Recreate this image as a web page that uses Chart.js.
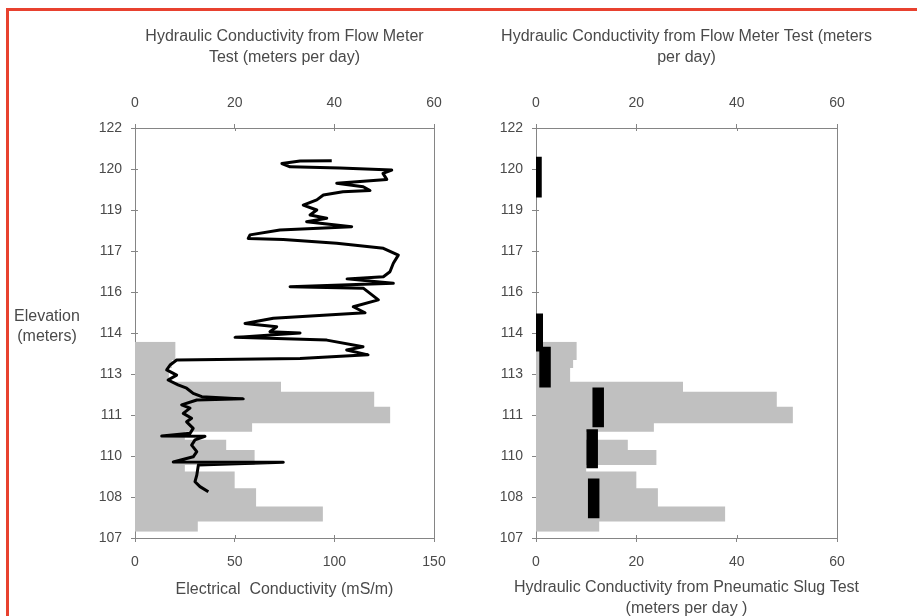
<!DOCTYPE html>
<html>
<head>
<meta charset="utf-8">
<title>Borehole conductivity profiles</title>
<script src="https://cdn.jsdelivr.net/npm/chart.js@4.4.1/dist/chart.umd.min.js"></script>
<style>
  html, body { margin: 0; padding: 0; background: #fff; overflow: hidden; }
  #page { position: relative; width: 917px; height: 616px; }
  #frame { position: absolute; left: 6px; top: 8px; width: 930px; height: 630px;
           border-top: 3px solid #e8412f; border-left: 3px solid #e8412f; }
  #left { position: absolute; left: 0; top: 0; }
  #right { position: absolute; left: 460px; top: 0; }
</style>
</head>
<body>
<div id="page">
  <div id="frame"></div>
  <canvas id="left" width="460" height="616"></canvas>
  <canvas id="right" width="457" height="616"></canvas>
</div>
<script>
// elevation ticks are every 1.5 m but the original shows them as whole metres
const elevationTicks = ['107', '108', '110', '111', '113', '114', '116', '117', '119', '120', '122'];

// flow meter test: hydraulic conductivity (m/day) for each depth interval
const flowEdges = [114.18, 113.51, 113.22, 112.72, 112.35, 111.80, 111.20, 110.89,
                   110.59, 110.22, 109.67, 109.43, 108.82, 108.15, 107.60, 107.23];
const flowK = [8.1, 7.4, 6.8, 29.3, 48.0, 51.2, 23.5, 10.0, 18.3, 24.0, 10.0, 20.0, 24.3, 37.7, 12.6];

// electrical conductivity log (mS/m)
const ecElevation = [120.80, 120.79, 120.70, 120.58, 120.54, 120.46, 120.34, 120.12, 119.98, 119.85,
                     119.71, 119.67, 119.55, 119.37, 119.18, 119.00, 118.82, 118.70, 118.57, 118.39,
                     118.27, 118.09, 117.96, 117.92, 117.78, 117.60, 117.35, 117.05, 116.74, 116.56,
                     116.48, 116.32, 116.19, 116.14, 115.95, 115.71, 115.46, 115.24, 115.04, 114.85,
                     114.73, 114.55, 114.50, 114.34, 114.24, 114.00, 113.88, 113.70, 113.57, 113.51,
                     113.33, 113.15, 112.96, 112.78, 112.60, 112.48, 112.29, 112.17, 112.09, 112.05,
                     111.87, 111.75, 111.56, 111.38, 111.25, 111.01, 110.83, 110.73, 110.72, 110.59,
                     110.40, 110.16, 109.97, 109.78, 109.77, 109.67, 109.30, 109.06, 108.88, 108.69];
const ecValue = [98.7, 82.8, 73.7, 77.8, 102.8, 128.8, 124.4, 126.3, 101.2, 114.5,
                 117.9, 104.3, 94.5, 91.2, 84.4, 91.2, 87.8, 96.2, 86.1, 108.7,
                 72.7, 57.7, 56.8, 74.4, 101.2, 124.6, 132.1, 129.6, 127.9, 124.6,
                 106.4, 129.6, 77.8, 114.5, 117.9, 122.1, 109.5, 115.4, 69.4, 55.2,
                 71.1, 67.7, 82.8, 50.2, 96.2, 114.4, 106.2, 116.9, 82.8, 20.9,
                 17.6, 15.9, 20.9, 16.6, 21.6, 25.9, 29.2, 33.5, 54.3, 31.0,
                 23.4, 27.6, 24.2, 28.4, 25.9, 29.2, 27.6, 13.4, 35.1, 30.1,
                 28.4, 31.0, 29.2, 19.2, 74.4, 31.8, 31.0, 30.1, 32.6, 36.8];

// pneumatic slug test intervals (m/day)
const slugTop = [120.95, 115.21, 114.00, 112.51, 110.98, 109.18];
const slugBottom = [119.46, 113.82, 112.51, 111.05, 109.55, 107.72];
const slugK = [0.0, 0.25, 1.8, 12.4, 11.2, 11.5];

const axisGrey = '#858585';
const textGrey = '#4a4a4a';
const fillGrey = '#c0c0c0';
const fontFamily = '"Liberation Sans", Arial, sans-serif';

Chart.defaults.font.family = fontFamily;
Chart.defaults.color = textGrey;

function stepOutline(edges, values) {
  const pts = [{x: 0, y: edges[0]}];
  values.forEach((v, i) => {
    pts.push({x: v, y: edges[i]});
    pts.push({x: v, y: edges[i + 1]});
  });
  pts.push({x: 0, y: edges[edges.length - 1]});
  return pts;
}

function xAxis(position, max, step, titleText, titlePad, height) {
  return {
    type: 'linear', axis: 'x', position: position, min: 0, max: max,
    border: {color: axisGrey, width: 1},
    grid: {drawOnChartArea: false, color: axisGrey, tickLength: 4},
    ticks: {stepSize: step, padding: 12, color: textGrey, font: {size: 14}},
    title: {display: !!titleText, text: titleText || '', color: textGrey, padding: titlePad,
            font: {size: 16, lineHeight: '21px'}},
    afterFit: s => { s.height = height; }
  };
}

function yAxis(width) {
  return {
    type: 'linear', position: 'left', min: 107, max: 122,
    border: {color: axisGrey, width: 1},
    grid: {drawOnChartArea: false, color: axisGrey, tickLength: 4},
    ticks: {stepSize: 1.5, autoSkip: false, padding: 9, color: textGrey, font: {size: 14},
            callback: (v, i) => elevationTicks[i]},
    afterFit: s => { s.width = width; }
  };
}

// right edge of the plot box, small inner tick marks and free-standing text
const boxPlugin = {
  id: 'box',
  beforeDatasetsDraw(chart, args, opts) {
    const {ctx, chartArea: a} = chart;
    ctx.save();
    ctx.strokeStyle = axisGrey;
    ctx.lineWidth = 1;
    ctx.beginPath();
    ctx.moveTo(Math.round(a.right) + 0.5, a.top);
    ctx.lineTo(Math.round(a.right) + 0.5, a.bottom);
    Object.values(chart.scales).forEach(sc => {
      sc.ticks.forEach((t, i) => {
        const p = Math.round(sc.getPixelForTick(i)) + 0.5;
        if (sc.axis === 'y') { ctx.moveTo(a.left, p); ctx.lineTo(a.left + 3, p); }
        else if (sc.position === 'top') { ctx.moveTo(p, a.top); ctx.lineTo(p, a.top + 3); }
        else { ctx.moveTo(p, a.bottom); ctx.lineTo(p, a.bottom - 3); }
      });
    });
    ctx.stroke();
    ctx.restore();
  },
  afterDraw(chart, args, opts) {
    const ctx = chart.ctx;
    const a = chart.chartArea;
    ctx.save();
    ctx.fillStyle = textGrey;
    ctx.font = '16px ' + fontFamily;
    ctx.textAlign = 'center';
    ctx.textBaseline = 'middle';
    (opts.texts || []).forEach(t => {
      const x = t.x !== undefined ? t.x : (a.left + a.right) / 2;
      t.lines.forEach((line, i) => ctx.fillText(line, x, t.y + i * t.step));
    });
    ctx.restore();
  }
};

const commonOptions = (padRight, scales, texts) => ({
  responsive: false,
  animation: false,
  indexAxis: 'y',
  layout: {padding: {left: 0, right: padRight, top: 0, bottom: 0}},
  elements: {point: {radius: 0}, line: {tension: 0}},
  plugins: {legend: {display: false}, tooltip: {enabled: false}, box: {texts: texts}},
  scales: scales
});

const flowDataset = {
  data: stepOutline(flowEdges, flowK),
  xAxisID: 'xTop', yAxisID: 'y',
  borderWidth: 0, backgroundColor: fillGrey, fill: 'origin', order: 2
};

// left: flow meter conductivity + electrical conductivity log
new Chart(document.getElementById('left'), {
  type: 'line',
  data: {
    datasets: [
      {
        data: ecValue.map((v, i) => ({x: v, y: ecElevation[i]})),
        xAxisID: 'xBottom', yAxisID: 'y',
        borderColor: '#000', borderWidth: 3, borderJoinStyle: 'round', fill: false, order: 1
      },
      Object.assign({}, flowDataset)
    ]
  },
  options: commonOptions(26, {
    xTop: xAxis('top', 60, 20, ['Hydraulic Conductivity from Flow Meter', 'Test (meters per day)'],
                {top: 26.5, bottom: 0}, 128),
    xBottom: xAxis('bottom', 150, 50, 'Electrical  Conductivity (mS/m)', {top: 0, bottom: 15.5}, 78),
    y: yAxis(135)
  }, [{lines: ['Elevation', '(meters)'], x: 47, y: 317, step: 20}]),
  plugins: [boxPlugin]
});

// right: flow meter conductivity + pneumatic slug test
const slugDatasets = slugK.map((k, i) => ({
  data: [{x: k, y: slugTop[i]}, {x: k, y: slugBottom[i]}],
  xAxisID: 'xBottom', yAxisID: 'y',
  borderColor: '#000', borderWidth: 11.5, borderCapStyle: 'butt', fill: false, order: 1
}));

new Chart(document.getElementById('right'), {
  type: 'line',
  data: {datasets: slugDatasets.concat([Object.assign({}, flowDataset)])},
  options: commonOptions(80, {
    xTop: xAxis('top', 60, 20, null, 0, 128),
    xBottom: xAxis('bottom', 60, 20, null, 0, 78),
    y: yAxis(76)
  }, [
    {lines: ['Hydraulic Conductivity from Flow Meter Test (meters', 'per day)'], y: 37, step: 21},
    {lines: ['Hydraulic Conductivity from Pneumatic Slug Test', '(meters per day )'], y: 588, step: 21}
  ]),
  plugins: [boxPlugin]
});
</script>
</body>
</html>
